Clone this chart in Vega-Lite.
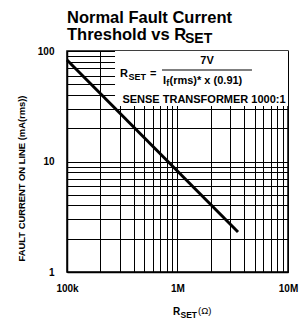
{
  "$schema": "https://vega.github.io/schema/vega-lite/v6.json",
  "width": 221,
  "height": 221,
  "autosize": {"type": "none"},
  "padding": {"left": 67, "top": 51, "right": 12, "bottom": 50},
  "background": "white",
  "config": {
    "font": "Liberation Sans",
    "view": {"stroke": "black", "strokeWidth": 1.5},
    "axis": {"domainColor": "black", "domainWidth": 1.5, "gridColor": "black", "gridOpacity": 1, "gridWidth": 1, "ticks": false, "labelFont": "Liberation Sans", "labelFontWeight": "bold", "labelFontSize": 10, "labelColor": "black"}
  },
  "layer": [
    {
      "data": {"values": [{"rset": 100000, "current": 82.9}, {"rset": 3530000, "current": 2.3}]},
      "mark": {"type": "line", "color": "black", "strokeWidth": 3},
      "encoding": {
        "x": {
          "field": "rset", "type": "quantitative",
          "scale": {"type": "log", "domain": [100000, 10000000], "nice": false},
          "axis": {
            "values": [100000, 200000, 300000, 400000, 500000, 600000, 700000, 800000, 900000, 1000000, 2000000, 3000000, 4000000, 5000000, 6000000, 7000000, 8000000, 9000000, 10000000],
            "labelExpr": "datum.value == 100000 ? '100k' : datum.value == 1000000 ? '1M' : datum.value == 10000000 ? '10M' : ''",
            "labelPadding": 11,
            "labelBaseline": "top",
            "labelFlush": false,
            "labelOverlap": false,
            "title": null,
            "grid": true
          }
        },
        "y": {
          "field": "current", "type": "quantitative",
          "scale": {"type": "log", "domain": [1, 100], "nice": false},
          "axis": {
            "values": [1, 2, 3, 4, 5, 6, 7, 8, 9, 10, 20, 30, 40, 50, 60, 70, 80, 90, 100],
            "labelExpr": "datum.value == 100 ? '100' : datum.value == 10 ? '10' : datum.value == 1 ? '1' : ''",
            "labelPadding": 13,
            "labelFlush": false,
            "labelOverlap": false,
            "grid": true,
            "title": "FAULT CURRENT ON LINE (mA(rms))",
            "titleFont": "Liberation Sans",
            "titleFontSize": 9.4,
            "titleFontWeight": "bold",
            "titleColor": "black",
            "titleAngle": -90,
            "titleX": -46,
            "titleY": 127,
            "titleAlign": "center",
            "titleBaseline": "middle"
          }
        }
      }
    },
    {
      "data": {"values": [{}]},
      "mark": {"type": "rect", "fill": "white"},
      "encoding": {
        "x": {"datum": 272000, "type": "quantitative"},
        "x2": {"datum": 10000000},
        "y": {"datum": 31.8, "type": "quantitative"},
        "y2": {"datum": 100}
      }
    },
    {
      "data": {"values": [{}]},
      "mark": {"type": "rule", "color": "black", "strokeWidth": 1.2},
      "encoding": {
        "x": {"datum": 724000, "type": "quantitative"},
        "x2": {"datum": 4720000},
        "y": {"datum": 67.3, "type": "quantitative"}
      }
    },
    {
      "data": {"values": [
        {"label": "R", "x": 301800, "y": 58.2},
        {"label": "=", "x": 563700, "y": 58.2},
        {"label": "I", "x": 739000, "y": 50.3},
        {"label": "(rms)* x (0.91)", "x": 846900, "y": 50.3}
      ]},
      "mark": {"type": "text", "align": "left", "baseline": "alphabetic", "fontSize": 11, "fontWeight": "bold", "color": "black"},
      "encoding": {
        "x": {"field": "x", "type": "quantitative"},
        "y": {"field": "y", "type": "quantitative"},
        "text": {"field": "label"}
      }
    },
    {
      "data": {"values": [
        {"label": "SET", "x": 360400, "y": 54.6},
        {"label": "f", "x": 790000, "y": 48.2}
      ]},
      "mark": {"type": "text", "align": "left", "baseline": "alphabetic", "fontSize": 9, "fontWeight": "bold", "color": "black"},
      "encoding": {
        "x": {"field": "x", "type": "quantitative"},
        "y": {"field": "y", "type": "quantitative"},
        "text": {"field": "label"}
      }
    },
    {
      "data": {"values": [
        {"label": "7V", "x": 1849000, "y": 76.3},
        {"label": "SENSE TRANSFORMER 1000:1", "x": 1737000, "y": 33.8}
      ]},
      "mark": {"type": "text", "align": "center", "baseline": "alphabetic", "fontSize": 11, "fontWeight": "bold", "color": "black"},
      "encoding": {
        "x": {"field": "x", "type": "quantitative"},
        "y": {"field": "y", "type": "quantitative"},
        "text": {"field": "label"}
      }
    },
    {
      "data": {"values": [
        {"label": "Normal Fault Current", "x": 100000, "y": 179.2},
        {"label": "Threshold vs R", "x": 100000, "y": 125.8}
      ]},
      "mark": {"type": "text", "align": "left", "baseline": "alphabetic", "fontSize": 16.5, "fontWeight": "bold", "color": "black"},
      "encoding": {
        "x": {"field": "x", "type": "quantitative"},
        "y": {"field": "y", "type": "quantitative"},
        "text": {"field": "label"}
      }
    },
    {
      "data": {"values": [{"label": "SET", "x": 1170000, "y": 118.1}]},
      "mark": {"type": "text", "align": "left", "baseline": "alphabetic", "fontSize": 14, "fontWeight": "bold", "color": "black"},
      "encoding": {
        "x": {"field": "x", "type": "quantitative"},
        "y": {"field": "y", "type": "quantitative"},
        "text": {"field": "label"}
      }
    },
    {
      "data": {"values": [{"label": "R", "x": 910000, "y": 0.408}]},
      "mark": {"type": "text", "align": "left", "baseline": "alphabetic", "fontSize": 10, "fontWeight": "bold", "color": "black"},
      "encoding": {
        "x": {"field": "x", "type": "quantitative"},
        "y": {"field": "y", "type": "quantitative"},
        "text": {"field": "label"}
      }
    },
    {
      "data": {"values": [{"label": "SET", "x": 1064000, "y": 0.384}]},
      "mark": {"type": "text", "align": "left", "baseline": "alphabetic", "fontSize": 8.5, "fontWeight": "bold", "color": "black"},
      "encoding": {
        "x": {"field": "x", "type": "quantitative"},
        "y": {"field": "y", "type": "quantitative"},
        "text": {"field": "label"}
      }
    },
    {
      "data": {"values": [{"label": "(Ω)", "x": 1533000, "y": 0.415}]},
      "mark": {"type": "text", "align": "left", "baseline": "alphabetic", "fontSize": 9.5, "fontWeight": "normal", "color": "black"},
      "encoding": {
        "x": {"field": "x", "type": "quantitative"},
        "y": {"field": "y", "type": "quantitative"},
        "text": {"field": "label"}
      }
    }
  ]
}
